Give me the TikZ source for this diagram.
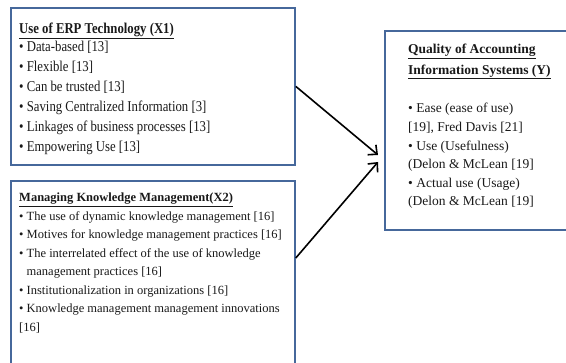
\documentclass[tikz,border=0pt]{standalone}
\usepackage{fontspec}
\setmainfont{Liberation Serif}
\newfontfamily\narrowserif[FakeStretch=0.85]{Liberation Serif}
\usepackage{tikz}
\usetikzlibrary{arrows.meta,calc}
\definecolor{boxblue}{RGB}{70,104,155}

\begin{document}
\begin{tikzpicture}[x=1pt,y=-1pt,
        frame/.style={draw=boxblue, line width=1.8pt, anchor=north west, inner sep=0pt},
        txt/.style={anchor=north west, align=left, inner sep=0pt, text=black!90},
        link/.style={line width=1.6pt, -{Straight Barb[length=7pt,width=13pt,line width=1.6pt]}}]
        \useasboundingbox (0,0) rectangle (566,363);
        \clip (0,0) rectangle (566,363);

        \node[frame, minimum width=284pt, minimum height=157pt] (erp) at (10,7) {};
        \node[frame, minimum width=284pt, minimum height=200pt] (km) at (10,180) {};
        \node[frame, minimum width=200pt, minimum height=199pt] (qual) at (384,30) {};

        \node[txt, font=\narrowserif\fontsize{15}{20}\selectfont] (erptext) at (19,23) {\underline{\textbf{Use of ERP Technology (X1)}}\\[-2pt]
            \textbullet{} Data-based [13]\\
            \textbullet{} Flexible [13]\\
            \textbullet{} Can be trusted [13]\\
            \textbullet{} Saving Centralized Information [3]\\
            \textbullet{} Linkages of business processes [13]\\
            \textbullet{} Empowering Use [13]};
        \node[txt, font=\fontsize{12.5}{18.5}\selectfont] (kmtext) at (19,193) {\underline{\textbf{Managing Knowledge Management(X2)}}\\
            \textbullet{} The use of dynamic knowledge management [16]\\
            \textbullet{} Motives for knowledge management practices [16]\\
            \textbullet{} The interrelated effect of the use of knowledge\\
            \phantom{\textbullet{} }management practices [16]\\
            \textbullet{} Institutionalization in organizations [16]\\
            \textbullet{} Knowledge management management innovations\\
            {[}16]};
        \node[txt, font=\fontsize{13.5}{18.6}\selectfont] (qualtext) at (408,44) {\underline{\textbf{Quality of Accounting}}\\[2pt]
            \underline{\textbf{Information Systems (Y)}}\\[20pt]
            \textbullet{} Ease (ease of use)\\
            {[}19], Fred Davis [21]\\
            \textbullet{} Use (Usefulness)\\
            (Delon \& McLean [19]\\
            \textbullet{} Actual use (Usage)\\
            (Delon \& McLean [19]};

        \coordinate (in1) at ($(qual.north west)+(-6,125)$);
        \coordinate (in2) at ($(qual.north west)+(-6,132)$);
        \coordinate (out2) at ($(km.north east)+(0,78)$);

        \draw[link] (erp.east) -- (in1);
        \draw[link] (out2) -- (in2);
    \end{tikzpicture}
\end{document}
